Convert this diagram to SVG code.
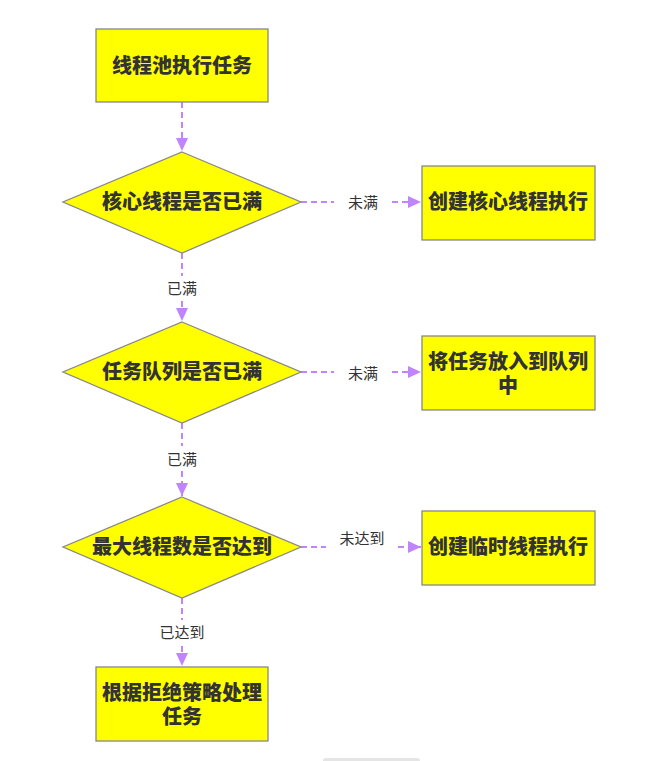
<svg xmlns="http://www.w3.org/2000/svg" width="655" height="761" viewBox="0 0 655 761">
<style>
.n{fill:#ffff00;stroke:#888;stroke-width:1.3}
.t{font-family:"Noto Sans CJK SC",sans-serif;font-weight:900;font-size:20px;fill:#333;text-anchor:middle}
.l{font-family:"Noto Sans CJK SC",sans-serif;font-size:15px;fill:#333;text-anchor:middle}
.c{stroke:#c084fc;stroke-width:2;stroke-dasharray:6 4;fill:none}
</style>
<defs><marker id="a" markerWidth="14" markerHeight="14" refX="13" refY="6" orient="auto" markerUnits="userSpaceOnUse"><path d="M0,0L13,6L0,12z" fill="#c084fc"/></marker></defs>
<rect width="655" height="761" fill="#fff"/>
<g id="connectors">
<path class="c" d="M182,102V151" marker-end="url(#a)"/>
<path class="c" d="M182,253V276M182,301V321" marker-end="url(#a)"/>
<path class="c" d="M182,423V446M182,471V496" marker-end="url(#a)"/>
<path class="c" d="M182,598V620M182,646V666" marker-end="url(#a)"/>
<path class="c" d="M301,202H334M392,202H421" marker-end="url(#a)"/>
<path class="c" d="M301,372H334M392,372H421" marker-end="url(#a)"/>
<path class="c" d="M301,547H326M398,547H421" marker-end="url(#a)"/>
<text class="l" x="182" y="294">已满</text>
<text class="l" x="182" y="465">已满</text>
<text class="l" x="182" y="638">已达到</text>
<text class="l" x="363" y="208">未满</text>
<text class="l" x="363" y="379">未满</text>
<text class="l" x="362" y="544">未达到</text>
</g>
<g id="start"><rect class="n" x="96" y="29" width="172" height="73"/><text class="t" x="182" y="73">线程池执行任务</text></g>
<g id="d1"><polygon class="n" points="182,152 301,202 182,253 63,202"/><text class="t" x="182" y="209">核心线程是否已满</text></g>
<g id="d2"><polygon class="n" points="182,322 301,372 182,423 63,372"/><text class="t" x="182" y="379">任务队列是否已满</text></g>
<g id="d3"><polygon class="n" points="182,497 301,547 182,598 63,547"/><text class="t" x="182" y="554">最大线程数是否达到</text></g>
<g id="r1"><rect class="n" x="422" y="166" width="173" height="74"/><text class="t" x="508" y="209">创建核心线程执行</text></g>
<g id="r2"><rect class="n" x="422" y="336" width="173" height="74"/><text class="t" x="508" y="369">将任务放入到队列</text><text class="t" x="508" y="393">中</text></g>
<g id="r3"><rect class="n" x="422" y="511" width="173" height="74"/><text class="t" x="508" y="554">创建临时线程执行</text></g>
<g id="end"><rect class="n" x="96" y="667" width="172" height="74"/><text class="t" x="182" y="700">根据拒绝策略处理</text><text class="t" x="182" y="724">任务</text></g>
<rect x="323" y="758" width="97" height="6" rx="3" fill="#e5e5e5"/>
</svg>
